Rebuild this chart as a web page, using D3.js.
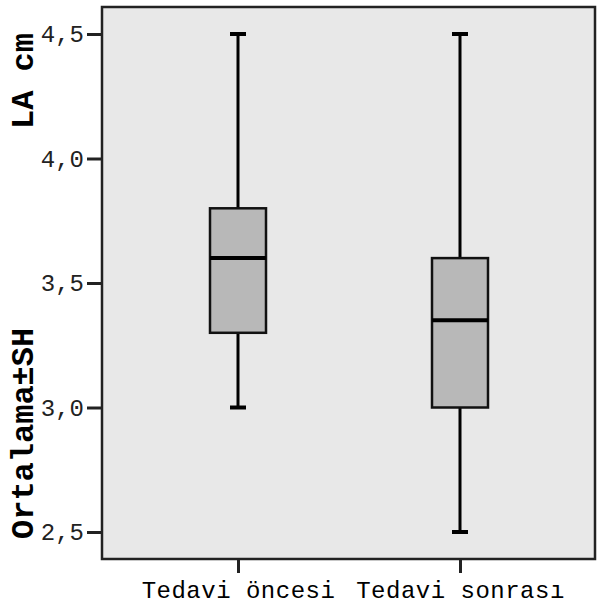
<!DOCTYPE html>
<html>
<head>
    <meta charset="utf-8">
    <style>
        body { margin: 0; background: #fff; }
        .tick-label { font-family: "Liberation Mono", monospace; font-size: 24px; fill: #222; }
        .x-label { font-family: "Liberation Mono", monospace; font-size: 24px; fill: #000; letter-spacing: 0.5px; }
        .y-title { font-family: "Liberation Mono", monospace; font-size: 32px; font-weight: bold; fill: #000; }
    </style>
    <script src="https://d3js.org/d3.v7.min.js"></script>
</head>
<body>
<div id="chart"></div>
<script>
    // data
    const groups = ['Tedavi öncesi', 'Tedavi sonrası'];
    const whiskerLow = [3.0, 2.5];
    const q1 = [3.3, 3.0];
    const median = [3.6, 3.35];
    const q3 = [3.8, 3.6];
    const whiskerHigh = [4.5, 4.5];
    const yTicks = [2.5, 3.0, 3.5, 4.0, 4.5];

    const width = 597, height = 607;
    const plot = { left: 102, right: 595, top: 7, bottom: 559 };

    const svg = d3.select('#chart').append('svg')
            .attr('width', width)
            .attr('height', height);

    const y = d3.scaleLinear()
            .domain([2.5, 4.5])
            .range([532, 34]);

    const x = d3.scalePoint()
            .domain(groups)
            .range([238, 460]);

    // plot background
    svg.append('rect')
            .attr('x', plot.left)
            .attr('y', plot.top)
            .attr('width', plot.right - plot.left)
            .attr('height', plot.bottom - plot.top)
            .attr('fill', '#e8e8e8')
            .attr('stroke', '#222')
            .attr('stroke-width', 2.5);

    // y axis
    const yAxis = d3.axisLeft(y)
            .tickValues(yTicks)
            .tickSize(15)
            .tickPadding(3)
            .tickFormat(d => d3.format('.1f')(d).replace('.', ','));

    const gy = svg.append('g')
            .attr('transform', `translate(${plot.left},0)`)
            .call(yAxis);
    gy.select('.domain').remove();
    gy.selectAll('.tick line').attr('stroke', '#222').attr('stroke-width', 3);
    gy.selectAll('.tick text').attr('class', 'tick-label').attr('fill', null);

    // x axis
    const xAxis = d3.axisBottom(x)
            .tickSize(14)
            .tickPadding(8);

    const gx = svg.append('g')
            .attr('transform', `translate(0,${plot.bottom})`)
            .call(xAxis);
    gx.select('.domain').remove();
    gx.selectAll('.tick line').attr('stroke', '#222').attr('stroke-width', 3);
    gx.selectAll('.tick text').attr('class', 'x-label').attr('fill', null);

    // y titles
    svg.append('text')
            .attr('class', 'y-title')
            .attr('transform', 'translate(33,539) rotate(-90)')
            .attr('text-anchor', 'start')
            .text('Ortalama±SH');

    svg.append('text')
            .attr('class', 'y-title')
            .attr('transform', 'translate(33,129) rotate(-90)')
            .attr('text-anchor', 'start')
            .text('LA cm');

    // boxes
    const boxW = 56, capW = 16;
    const boxes = groups.map((g, i) => ({
        g, lo: whiskerLow[i], q1: q1[i], med: median[i], q3: q3[i], hi: whiskerHigh[i]
    }));

    const box = svg.selectAll('g.box')
            .data(boxes)
            .enter().append('g')
            .attr('class', 'box');

    box.append('line')
            .attr('x1', d => x(d.g)).attr('x2', d => x(d.g))
            .attr('y1', d => y(d.hi)).attr('y2', d => y(d.lo))
            .attr('stroke', '#000').attr('stroke-width', 3);

    box.selectAll('line.cap')
            .data(d => [d.hi, d.lo].map(v => ({ g: d.g, v })))
            .enter().append('line')
            .attr('class', 'cap')
            .attr('x1', d => x(d.g) - capW / 2).attr('x2', d => x(d.g) + capW / 2)
            .attr('y1', d => y(d.v)).attr('y2', d => y(d.v))
            .attr('stroke', '#000').attr('stroke-width', 4);

    box.append('rect')
            .attr('x', d => x(d.g) - boxW / 2)
            .attr('y', d => y(d.q3))
            .attr('width', boxW)
            .attr('height', d => y(d.q1) - y(d.q3))
            .attr('fill', '#b8b8b8')
            .attr('stroke', '#111')
            .attr('stroke-width', 2.5);

    box.append('line')
            .attr('x1', d => x(d.g) - boxW / 2).attr('x2', d => x(d.g) + boxW / 2)
            .attr('y1', d => y(d.med)).attr('y2', d => y(d.med))
            .attr('stroke', '#000').attr('stroke-width', 4);
</script>
</body>
</html>
